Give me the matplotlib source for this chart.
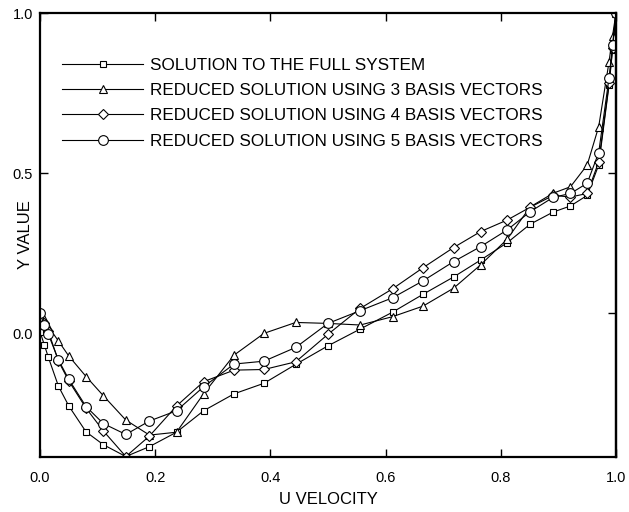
import matplotlib
matplotlib.use("Agg")
import matplotlib.pyplot as plt

plt.rcParams['font.family'] = ['Liberation Sans', 'DejaVu Sans']

# shared grid along the horizontal axis
xg = [0.0, 0.0075, 0.0145, 0.032, 0.05, 0.08, 0.11, 0.149, 0.19, 0.237,
      0.284, 0.337, 0.389, 0.444, 0.5, 0.556, 0.612, 0.665, 0.718, 0.765,
      0.811, 0.851, 0.891, 0.921, 0.95, 0.97, 0.988, 0.994, 1.0]

full = [0.004, -0.037, -0.076, -0.166, -0.228, -0.309, -0.349, -0.386, -0.355, -0.31,
        -0.243, -0.19, -0.157, -0.098, -0.04, 0.0125, 0.065, 0.121, 0.175, 0.228,
        0.282, 0.34, 0.378, 0.397, 0.43, 0.525, 0.775, 0.884, 1.0]

red3 = [0.05, 0.043, 0.02, -0.025, -0.072, -0.136, -0.196, -0.272, -0.319, -0.31,
        -0.19, -0.069, -0.001, 0.033, 0.03, 0.025, 0.051, 0.084, 0.14, 0.213,
        0.293, 0.394, 0.437, 0.457, 0.525, 0.645, 0.848, 0.928, 1.0]

red4 = [0.04, 0.03, 0.005, -0.088, -0.15, -0.235, -0.306, -0.386, -0.322, -0.228,
        -0.152, -0.116, -0.114, -0.09, -0.004, 0.077, 0.138, 0.204, 0.267, 0.317,
        0.353, 0.393, 0.43, 0.425, 0.436, 0.535, 0.78, 0.89, 1.0]

red5 = [0.061, 0.025, -0.004, -0.084, -0.145, -0.23, -0.283, -0.317, -0.275, -0.243,
        -0.168, -0.097, -0.088, -0.045, 0.03, 0.07, 0.11, 0.163, 0.223, 0.27,
        0.322, 0.379, 0.424, 0.436, 0.468, 0.564, 0.798, 0.9, 1.0]

labels = ["SOLUTION TO THE FULL SYSTEM",
          "REDUCED SOLUTION USING 3 BASIS VECTORS",
          "REDUCED SOLUTION USING 4 BASIS VECTORS",
          "REDUCED SOLUTION USING 5 BASIS VECTORS"]

fig = plt.figure(figsize=(6.29, 5.12), dpi=100)
ax = fig.add_axes([0.0636, 0.1074, 0.9157, 0.8672])

ax.plot(xg, full, color='black', lw=0.8, marker='s', ms=5, mfc='white', mec='black', mew=0.8, label=labels[0])
ax.plot(xg, red3, color='black', lw=0.8, marker='^', ms=6, mfc='white', mec='black', mew=0.8, label=labels[1])
ax.plot(xg, red4, color='black', lw=0.8, marker='D', ms=5, mfc='white', mec='black', mew=0.8, label=labels[2])
ax.plot(xg, red5, color='black', lw=0.8, marker='o', ms=7, mfc='white', mec='black', mew=0.8, label=labels[3])

ax.set_xlim(0, 1)
ax.set_ylim(-0.3875, 1.0)
ax.set_xticks([0.0, 0.2, 0.4, 0.6, 0.8, 1.0])
ax.set_xticklabels(['0.0', '0.2', '0.4', '0.6', '0.8', '1.0'])
ax.set_yticks([0.0, 0.5, 1.0])
ax.set_yticklabels(['0.0', '0.5', '1.0'])
ax.tick_params(direction='in', length=6, width=1, labelsize=10.5, top=True)
ax.tick_params(axis='x', pad=10)
ax.tick_params(axis='y', pad=5)
for s in ax.spines.values():
    s.set_linewidth(1.6)

sec = ax.secondary_yaxis('right')
sec.set_yticks([0.0625, 0.5])
sec.set_yticklabels([])
sec.tick_params(direction='in', length=6, width=1)
sec.spines['right'].set_linewidth(1.6)

ax.set_xlabel('U VELOCITY', fontsize=12, labelpad=5)
ax.set_ylabel('Y VALUE', fontsize=12)
ax.yaxis.set_label_coords(-0.0122, 0.5)

leg = ax.legend(loc='upper left', bbox_to_anchor=(0.012, 0.9335), frameon=False,
                fontsize=12.3, handlelength=4.74, handletextpad=0.41, labelspacing=0.6)

fig.savefig('out.png', dpi=100)
